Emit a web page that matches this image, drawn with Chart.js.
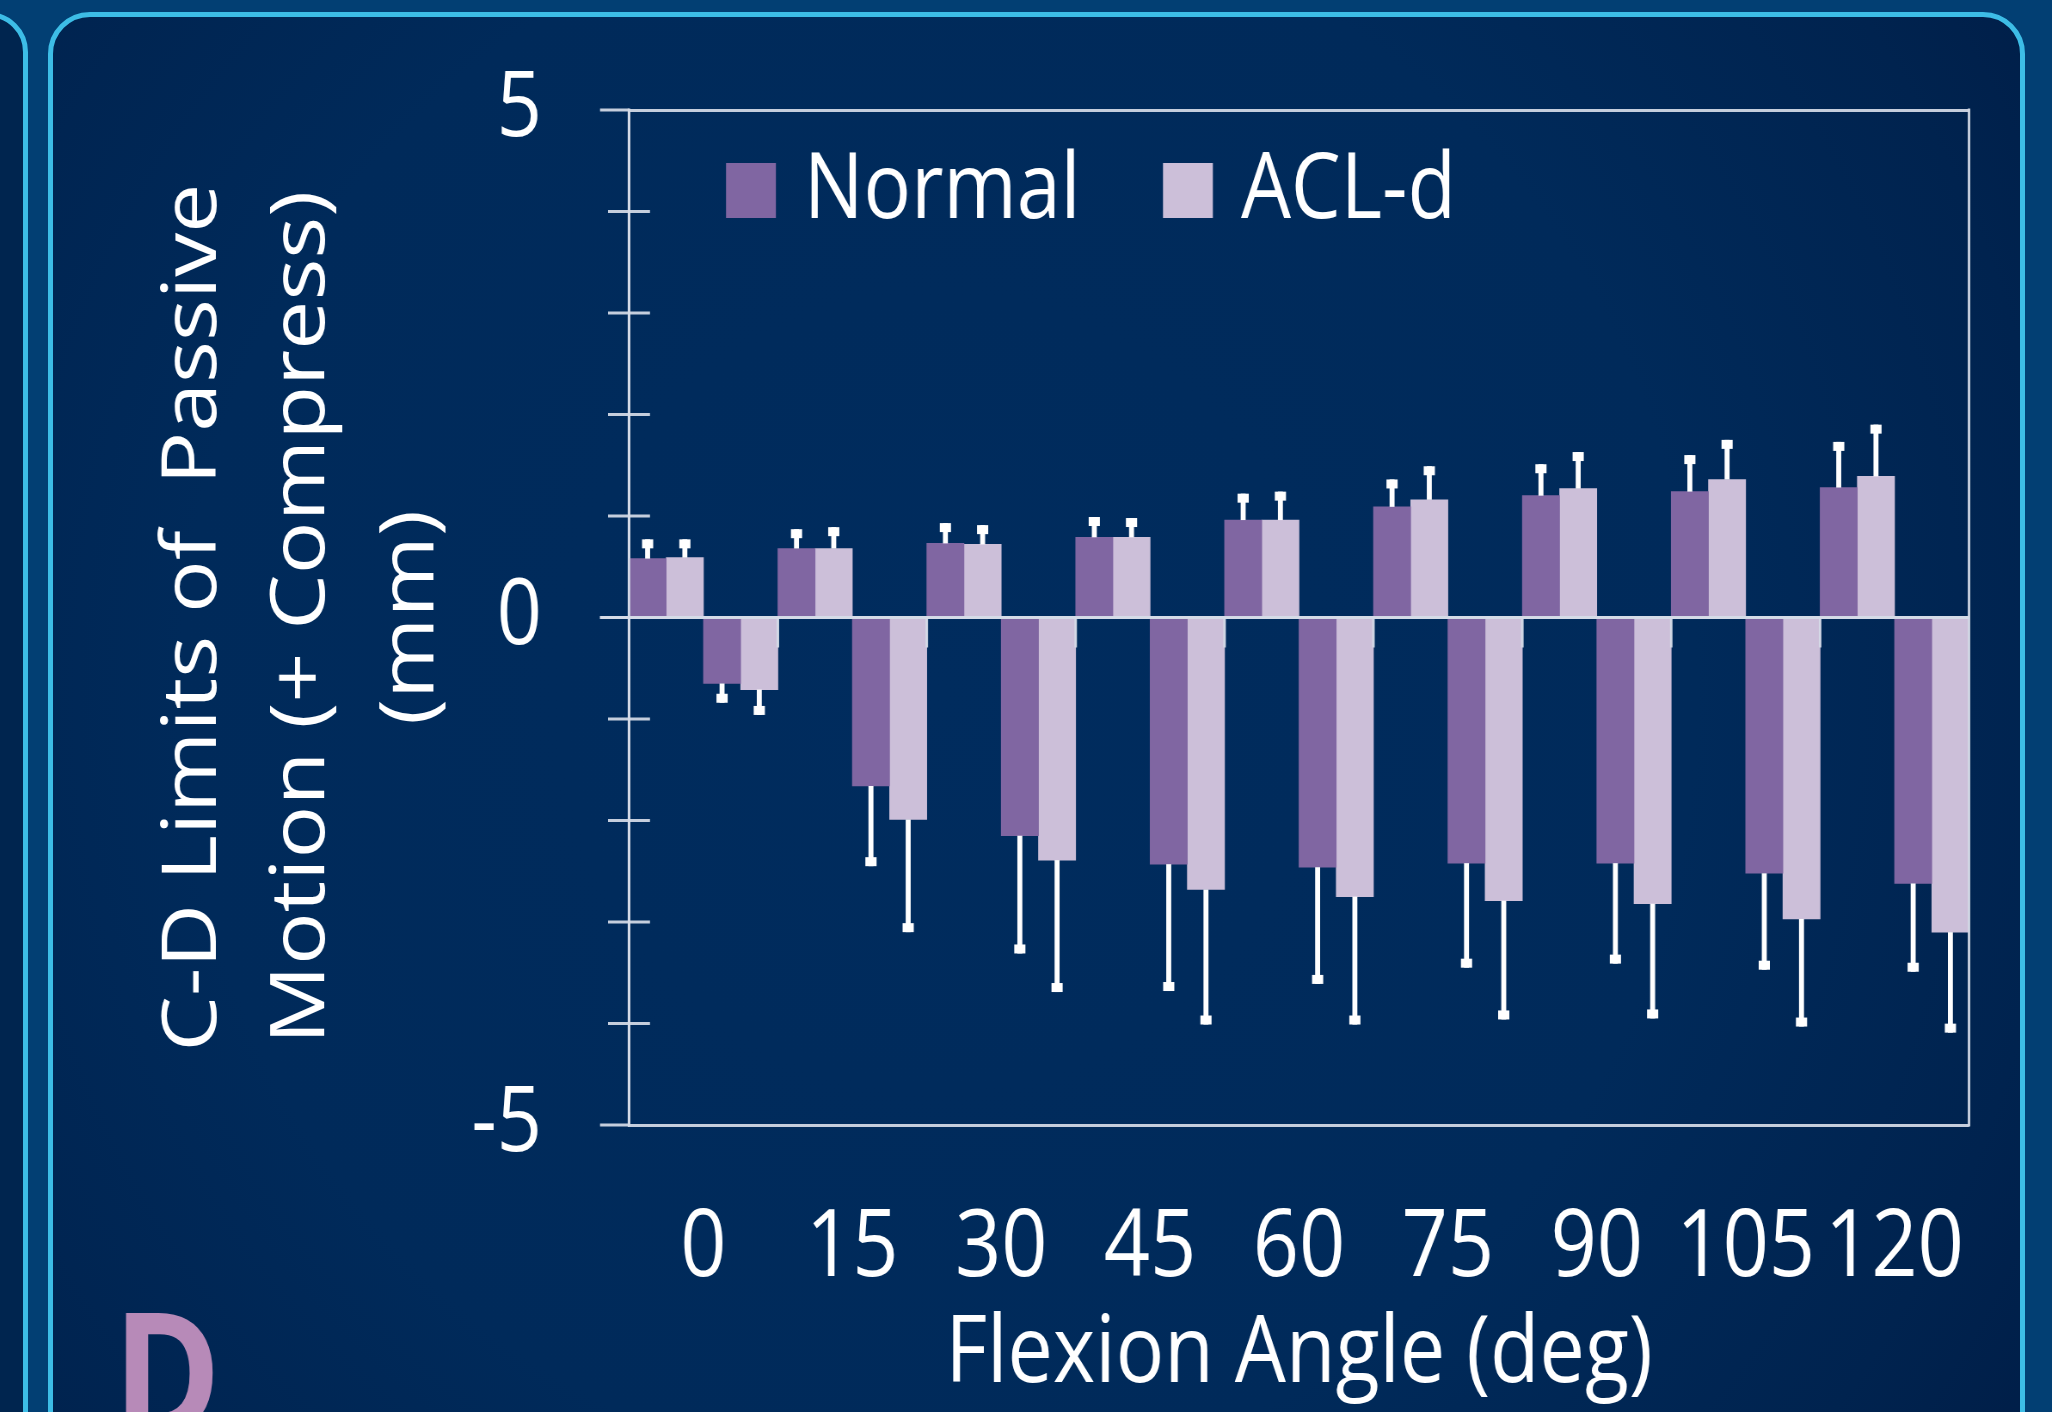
<!DOCTYPE html>
<html>
<head>
<meta charset="utf-8">
<script src="https://cdn.jsdelivr.net/npm/chart.js@4.4.1/dist/chart.umd.min.js"></script>
<style>
  html, body { margin:0; padding:0; width:2052px; height:1412px; overflow:hidden; background:#023f73; }
  #leftPanel { position:absolute; left:-1000px; top:12px; width:1028px; height:1700px; box-sizing:border-box;
    border:5px solid #3dbde6; border-radius:40px; background:#00254f; }
  #mainPanel { position:absolute; left:48px; top:12px; width:1977px; height:1700px; box-sizing:border-box;
    border:5px solid #3dbde6; border-radius:42px;
    background: radial-gradient(ellipse 70% 85% at 45% 40%, #002c5e 0%, #002a5a 55%, #00234f 82%, #001c45 100%); }
  #c { position:absolute; left:0; top:0; transform:scaleX(0.86); transform-origin:0 0; }
</style>
</head>
<body>
<div id="leftPanel"></div>
<div id="mainPanel"></div>
<canvas id="c" width="2386" height="1412"></canvas>
<script>
// ---------------- data ----------------
const categories   = ['0', '15', '30', '45', '60', '75', '90', '105', '120'];
const normalPos    = [0.58, 0.68, 0.73, 0.79, 0.96, 1.09, 1.20, 1.24, 1.28];
const normalPosErr = [0.19, 0.19, 0.20, 0.20, 0.26, 0.27, 0.31, 0.36, 0.45];
const aclPos       = [0.59, 0.68, 0.72, 0.79, 0.96, 1.16, 1.27, 1.36, 1.39];
const aclPosErr    = [0.18, 0.21, 0.19, 0.19, 0.28, 0.33, 0.36, 0.39, 0.51];
const normalNeg    = [-0.65, -1.66, -2.15, -2.43, -2.46, -2.42, -2.42, -2.52, -2.62];
const normalNegErr = [0.19, 0.79, 1.16, 1.25, 1.15, 1.03, 0.99, 0.95, 0.87];
const aclNeg       = [-0.71, -1.99, -2.39, -2.68, -2.75, -2.79, -2.82, -2.97, -3.10];
const aclNegErr    = [0.25, 1.11, 1.30, 1.33, 1.26, 1.17, 1.13, 1.06, 0.99];
const yLabeledTicks = [5, 0, -5];
const yTitleLines  = ['C-D Limits of  Passive', 'Motion (+ Compress)', '(mm)'];
const xTitle       = 'Flexion Angle (deg)';
const panelLetter  = 'D';

// ---------------- styling / layout ----------------
const S = 0.86;                 // horizontal compression of the canvas
const W = 2386, H = 1412;
const FONT = "'Open Sans', 'Noto Sans', sans-serif";
const NORMAL_COLOR = '#8066a2';
const ACL_COLOR = '#ccbfd9';
const AX = 'rgba(214,220,232,0.92)';
const chartLeft = 629 / S, chartRight = 1969 / S, chartTop = 110, chartBottom = 1125;

function line(ctx, x1, y1, x2, y2) { ctx.beginPath(); ctx.moveTo(x1, y1); ctx.lineTo(x2, y2); ctx.stroke(); }

const overlay = {
  id: 'overlay',
  beforeDraw(chart) {
    const c = chart.ctx;
    c.save();
    c.fillStyle = '#b78ab8';
    c.font = `bold 170px ${FONT}`;
    c.textBaseline = 'alphabetic';
    c.fillText(panelLetter, 125 / S - 14, 1435);
    c.restore();
  },
  afterDatasetsDraw(chart) {
    const { ctx, chartArea: ca, scales: { x, y } } = chart;
    const y0 = y.getPixelForValue(0);
    ctx.save();
    ctx.strokeStyle = AX;
    ctx.lineWidth = 3;
    ctx.lineCap = 'butt';
    // zero line over bars
    line(ctx, ca.left - 33.7, y0, ca.right, y0);
    // left axis + right border
    line(ctx, ca.left, ca.top - 1.5, ca.left, ca.bottom + 1.5);
    line(ctx, ca.right, ca.top - 1.5, ca.right, ca.bottom + 1.5);
    // y ticks: long outer extension at labelled values, crossing ticks elsewhere
    y.ticks.forEach(t => {
      const py = y.getPixelForValue(t.value);
      if (yLabeledTicks.includes(t.value)) {
        line(ctx, ca.left - 33.7, py, ca.left, py);
      } else {
        line(ctx, ca.left - 24.4, py, ca.left + 24.4, py);
      }
    });
    // category boundary ticks hanging from zero line
    for (let i = 0; i < categories.length - 1; i++) {
      const px = x.getPixelForValue(i + 0.5);
      line(ctx, px, y0, px, y0 + 30);
    }
    // error bars
    ctx.fillStyle = '#ffffff';
    chart.data.datasets.forEach((ds, di) => {
      const meta = chart.getDatasetMeta(di);
      meta.data.forEach((bar, i) => {
        const v = ds.data[i], e = ds.err[i];
        const end = v >= 0 ? v + e : v - e;
        const py = y.getPixelForValue(end);
        const stemW = 5.8, capW = 13, capH = 9;
        ctx.fillRect(bar.x - stemW / 2, Math.min(bar.y, py), stemW, Math.abs(py - bar.y));
        ctx.fillRect(bar.x - capW / 2, v >= 0 ? py : py - capH, capW, capH);
      });
    });
    ctx.restore();
  },
  afterDraw(chart) {
    const { ctx, chartArea: ca } = chart;
    const items = [
      { label: chart.data.datasets[0].label, color: chart.data.datasets[0].backgroundColor, off: 112.8 },
      { label: chart.data.datasets[1].label, color: chart.data.datasets[1].backgroundColor, off: 620.9 }
    ];
    ctx.save();
    ctx.font = `92px ${FONT}`;
    ctx.textBaseline = 'alphabetic';
    items.forEach(it => {
      const bx = ca.left + it.off;
      ctx.fillStyle = it.color;
      ctx.fillRect(bx, 163, 58, 55);
      ctx.fillStyle = '#ffffff';
      ctx.fillText(it.label, bx + 58 + 32.6, 218);
    });
    ctx.restore();
  }
};

new Chart(document.getElementById('c'), {
  type: 'bar',
  data: {
    labels: categories,
    datasets: [
      { label: 'Normal', data: normalPos, err: normalPosErr, backgroundColor: NORMAL_COLOR },
      { label: 'ACL-d',  data: aclPos,    err: aclPosErr,    backgroundColor: ACL_COLOR },
      { label: 'Normal', data: normalNeg, err: normalNegErr, backgroundColor: NORMAL_COLOR },
      { label: 'ACL-d',  data: aclNeg,    err: aclNegErr,    backgroundColor: ACL_COLOR }
    ]
  },
  options: {
    responsive: false,
    animation: false,
    devicePixelRatio: 1,
    layout: { padding: { left: 0, top: chartTop, right: W - chartRight, bottom: 0 } },
    datasets: { bar: { categoryPercentage: 1.0, barPercentage: 1.0, borderWidth: 0 } },
    plugins: { legend: { display: false }, tooltip: { enabled: false } },
    scales: {
      x: {
        offset: true,
        grid: { display: false, drawTicks: false },
        border: { display: false },
        ticks: { color: '#ffffff', font: { family: FONT, size: 94, lineHeight: 1.2 }, padding: 68, autoSkip: false, maxRotation: 0, minRotation: 0 },
        title: { display: true, text: xTitle, color: '#ffffff', font: { family: FONT, size: 94, lineHeight: 1.2 }, padding: 0 },
        afterFit: s => { s.height = H - chartBottom; }
      },
      y: {
        min: -5, max: 5,
        ticks: {
          stepSize: 1, autoSkip: false, color: '#ffffff', font: { family: FONT, size: 92, lineHeight: 1.2 }, padding: 45,
          callback: v => yLabeledTicks.includes(v) ? String(v) : ''
        },
        grid: {
          color: c => (c.tick && yLabeledTicks.includes(c.tick.value)) ? AX : 'rgba(0,0,0,0)',
          tickColor: 'rgba(0,0,0,0)',
          lineWidth: 3, tickWidth: 3, tickLength: 56.2
        },
        border: { display: true, color: AX, width: 3 },
        title: {
          display: true, text: yTitleLines, color: '#ffffff',
          font: { family: FONT, size: 88, lineHeight: 1.44 },
          padding: { top: 162.2, bottom: 0 }
        },
        afterFit: s => { s.width = chartLeft; }
      }
    }
  },
  plugins: [overlay]
});
</script>
</body>
</html>
